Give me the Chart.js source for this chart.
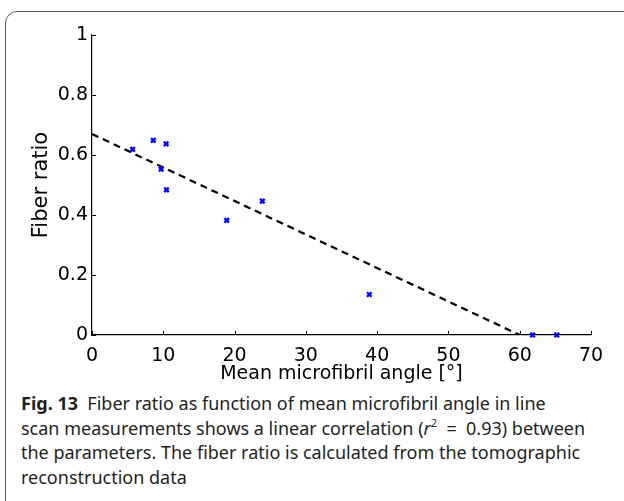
<!DOCTYPE html>
<html>
<head>
<meta charset="utf-8">
<script src="https://cdn.jsdelivr.net/npm/chart.js@4"></script>
<style>
html,body{margin:0;padding:0;background:#fff;width:624px;height:501px;overflow:hidden;}
#card{position:absolute;left:5px;top:11px;width:660px;height:520px;border:1.5px solid #5a5a5a;border-radius:12px;box-sizing:border-box;}
#wrap{position:absolute;left:0;top:0;width:624px;height:390px;}
#cap{position:absolute;left:21px;top:391px;width:600px;font-family:"Noto Sans",sans-serif;font-size:18px;line-height:24.5px;color:#231f20;white-space:nowrap;}
#cap b{font-weight:700;}
#cap sup{font-size:11px;line-height:0;position:relative;top:-1px;}
</style>
</head>
<body>
<div id="card"></div>
<div id="wrap"><canvas id="c" width="624" height="390"></canvas></div>
<div id="cap">
<div><b>Fig. 13</b>&nbsp; Fiber ratio as function of mean microfibril angle in line</div>
<div>scan measurements shows a linear correlation (<i>r</i><sup>2</sup> &nbsp;=&nbsp; 0.93) between</div>
<div>the parameters. The fiber ratio is calculated from the tomographic</div>
<div>reconstruction data</div>
</div>
<script>
const angles = [5.7, 8.6, 10.4, 9.7, 10.45, 18.9, 23.9, 38.9, 61.8, 65.2];
const fiberRatio = [0.619, 0.649, 0.637, 0.553, 0.484, 0.382, 0.446, 0.135, 0.0, 0.0];
const fitX = [0, 60];
const fitY = [0.67, 0.0];
const xTicks = [0, 10, 20, 30, 40, 50, 60, 70];
const yTicks = [0, 0.2, 0.4, 0.6, 0.8, 1];
const yTickLabels = ['0', '0.2', '0.4', '0.6', '0.8', '1'];

const pts = angles.map((a, i) => ({x: a, y: fiberRatio[i]}));
const fit = fitX.map((a, i) => ({x: a, y: fitY[i]}));

const inwardTicks = {
  id: 'inwardTicks',
  afterDraw(chart) {
    const {ctx, scales: {x, y}} = chart;
    ctx.save();
    ctx.strokeStyle = '#000';
    ctx.lineWidth = 1;
    const x0 = x.left, yb = y.bottom;
    xTicks.forEach(v => {
      const px = Math.round(x.getPixelForValue(v)) + 0.5;
      ctx.beginPath(); ctx.moveTo(px, yb); ctx.lineTo(px, yb - 4); ctx.stroke();
    });
    yTicks.forEach(v => {
      const py = Math.round(y.getPixelForValue(v)) + 0.5;
      ctx.beginPath(); ctx.moveTo(x0, py); ctx.lineTo(x0 + 4, py); ctx.stroke();
    });
    ctx.restore();
  }
};

new Chart(document.getElementById('c'), {
  type: 'scatter',
  data: {
    datasets: [
      {
        data: fit, showLine: true, borderColor: '#000', borderWidth: 2.2,
        borderDash: [7, 5], pointRadius: 0, fill: false, order: 2
      },
      {
        data: pts, pointStyle: 'crossRot', pointRadius: 3.2, pointBorderWidth: 2.4,
        borderColor: '#0000ff', backgroundColor: '#0000ff', showLine: false, clip: false, order: 1
      }
    ]
  },
  options: {
    responsive: false,
    animation: false,
    layout: {padding: {top: 35, right: 33, left: 0, bottom: 1}},
    plugins: {legend: {display: false}, tooltip: {enabled: false}},
    scales: {
      x: {
        type: 'linear', min: 0, max: 70,
        afterBuildTicks: s => { s.ticks = xTicks.map(v => ({value: v})); },
        afterFit: s => { s.height = 54; },
        grid: {display: false, drawTicks: false},
        border: {display: true, color: '#000', width: 1.2},
        ticks: {color: '#000', font: {family: 'DejaVu Sans', size: 19}, padding: 10, maxRotation: 0,
          callback: v => String(v)},
        title: {display: true, text: 'Mean microfibril angle [°]', color: '#000',
          font: {family: 'DejaVu Sans', size: 19}, padding: {top: 0, bottom: 4}}
      },
      y: {
        type: 'linear', min: 0, max: 1,
        afterBuildTicks: s => { s.ticks = yTicks.map(v => ({value: v})); },
        afterFit: s => { s.width = 92; },
        grid: {display: false, drawTicks: false},
        border: {display: true, color: '#000', width: 1.2},
        ticks: {color: '#000', font: {family: 'DejaVu Sans', size: 19}, padding: 4,
          callback: (v) => { const i = yTicks.indexOf(v); return i >= 0 ? yTickLabels[i] : ''; }},
        title: {display: true, text: 'Fiber ratio', color: '#000',
          font: {family: 'DejaVu Sans', size: 21}, padding: {top: 29, bottom: 0}}
      }
    }
  },
  plugins: [inwardTicks]
});
</script>
</body>
</html>
